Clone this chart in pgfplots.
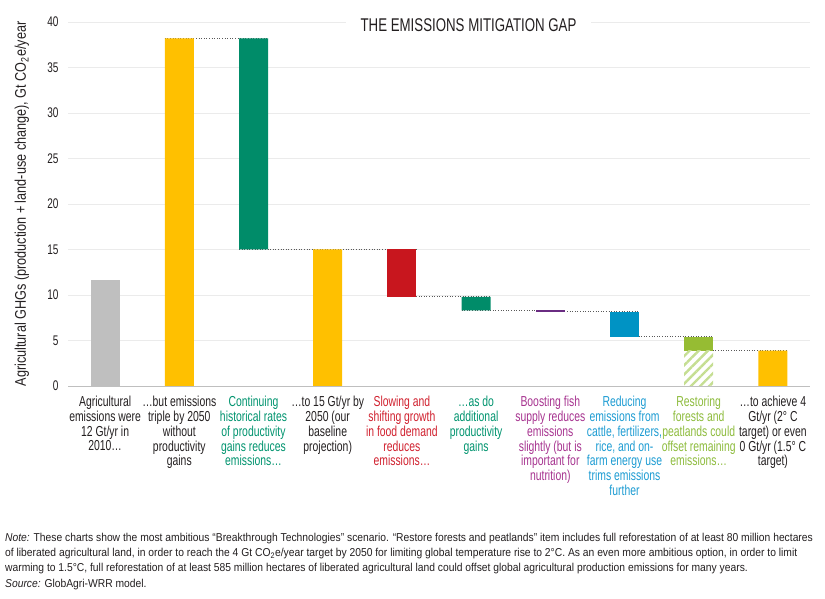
\documentclass[border=0pt]{standalone}
\usepackage{fontspec}
\setmainfont{Liberation Sans}[FakeStretch=0.72]
\newfontfamily\notefont{Liberation Sans}[FakeStretch=0.9]
\newfontfamily\ylabfont{Liberation Sans}[FakeStretch=0.82]
\usepackage{pgfplots}
\pgfplotsset{compat=1.18}
\usepackage{pgfplotstable}
\usetikzlibrary{patterns.meta}

\definecolor{cgray}{HTML}{BFBFBF}
\definecolor{cyellow}{HTML}{FFC000}
\definecolor{cgreen}{HTML}{008C69}
\definecolor{cred}{HTML}{C8161E}
\definecolor{cpurple}{HTML}{6A2C82}
\definecolor{cblue}{HTML}{0093C4}
\definecolor{clime}{HTML}{96BC33}
\definecolor{chatch}{HTML}{C5DE92}
\definecolor{tdark}{HTML}{231F20}
\definecolor{tgreen}{HTML}{00936E}
\definecolor{tred}{HTML}{D0202E}
\definecolor{tpurple}{HTML}{A6338F}
\definecolor{tblue}{HTML}{1C9BD2}
\definecolor{tlime}{HTML}{8DBB3C}
\definecolor{gridc}{HTML}{EBEBEB}

% coloured, centred multi-line category label
\newcommand{\catlabel}[2]{{\color{#1}\begin{tabular}{@{}c@{}}#2\end{tabular}}}

% waterfall steps: invisible base + visible segments
\pgfplotstableread{
x base hatch gray yellow green red purple blue lime
0 0    0   11.7 0    0    0   0    0    0
1 0    0   0    38.2 0    0   0    0    0
2 15   0   0    0    23.2 0   0    0    0
3 0    0   0    15   0    0   0    0    0
4 9.8  0   0    0    0    5.2 0    0    0
5 8.3  0   0    0    1.5  0   0    0    0
6 8.15 0   0    0    0    0   0.15 0    0
7 5.4  0   0    0    0    0   0    2.75 0
8 0    3.9 0    0    0    0   0    0    1.5
9 0    0   0    3.9  0    0   0    0    0
}\steps

\begin{document}
\begin{tikzpicture}
\useasboundingbox (0,0) rectangle (825bp,599bp);
\begin{axis}[
  at={(68bp,213bp)}, anchor=south west,
  scale only axis, width=742bp, height=364bp,
  xmin=-0.5, xmax=9.5, ymin=0, ymax=40,
  ybar stacked, bar width=29bp,
  axis lines*=left,
  y axis line style={draw=none},
  x axis line style={draw=black!25, line width=0.8bp},
  major tick length=0pt,
  ytick={0,5,...,40},
  ymajorgrids, grid style={gridc, line width=0.9bp},
  /pgf/number format/assume math mode=true,
  yticklabel style={font=\fontsize{14}{14}\selectfont, text=tdark, xshift=-6bp},
  ylabel={Agricultural GHGs (production + land-use change), Gt CO\textsubscript{2}e/year},
  ylabel style={at={(axis description cs:-0.062,0.5)}, anchor=center,
    font=\ylabfont\fontsize{15.5}{15.5}\selectfont, text=tdark},
  xtick={0,...,9},
  xticklabel style={font=\fontsize{14.5}{14.5}\selectfont,
    anchor=north, yshift=-8bp, inner sep=2bp},
  xticklabels={
    {\catlabel{tdark}{Agricultural\\emissions were\\12 Gt/yr in\\2010\dots}},
    {\catlabel{tdark}{\dots{}but emissions\\triple by 2050\\without\\productivity\\gains}},
    {\catlabel{tgreen}{Continuing\\historical rates\\of productivity\\gains reduces\\emissions\dots}},
    {\catlabel{tdark}{\dots{}to 15 Gt/yr by\\2050 (our\\baseline\\projection)}},
    {\catlabel{tred}{Slowing and\\shifting growth\\in food demand\\reduces\\emissions\dots}},
    {\catlabel{tgreen}{\dots{}as do\\additional\\productivity\\gains}},
    {\catlabel{tpurple}{Boosting fish\\supply reduces\\emissions\\slightly (but is\\important for\\nutrition)}},
    {\catlabel{tblue}{Reducing\\emissions from\\cattle, fertilizers,\\rice, and on-\\farm energy use\\trims emissions\\further}},
    {\catlabel{tlime}{Restoring\\forests and\\peatlands could\\offset remaining\\emissions\dots}},
    {\catlabel{tdark}{\dots{}to achieve 4\\Gt/yr (2° C\\target) or even\\0 Gt/yr (1.5° C\\target)}}
  },
  clip=false,
]
\addplot[draw=none, fill=none] table[x=x, y=base] {\steps};
\addplot[draw=none, pattern={Lines[angle=45, distance=6.5bp, line width=2.4bp]},
  pattern color=chatch] table[x=x, y=hatch] {\steps};
\addplot[draw=none, fill=cgray] table[x=x, y=gray] {\steps};
\addplot[draw=none, fill=cyellow] table[x=x, y=yellow] {\steps};
\addplot[draw=none, fill=cgreen] table[x=x, y=green] {\steps};
\addplot[draw=none, fill=cred] table[x=x, y=red] {\steps};
\addplot[draw=none, fill=cpurple] table[x=x, y=purple] {\steps};
\addplot[draw=none, fill=cblue] table[x=x, y=blue] {\steps};
\addplot[draw=none, fill=clime] table[x=x, y=lime] {\steps};
% connectors between consecutive steps
\pgfplotsset{connector/.style={sharp plot, stack plots=false, black!65,
  line width=0.9bp, dash pattern=on 1bp off 1.6bp, mark=none, forget plot}}
\addplot[connector] coordinates {(0.805,38.2) (2.195,38.2)};
\addplot[connector] coordinates {(1.805,15) (4.195,15)};
\addplot[connector] coordinates {(3.805,9.8) (5.195,9.8)};
\addplot[connector] coordinates {(4.805,8.3) (6.195,8.3)};
\addplot[connector] coordinates {(5.805,8.15) (7.195,8.15)};
\addplot[connector] coordinates {(6.805,5.4) (8.195,5.4)};
\addplot[connector] coordinates {(7.805,3.9) (9.195,3.9)};
\end{axis}
\node[fill=white, inner xsep=15bp, inner ysep=2bp, text=tdark,
  font=\fontsize{18.5}{18.5}\selectfont] at (468.5bp,574.3bp) {THE EMISSIONS MITIGATION GAP};
\node[anchor=north west, align=left, inner sep=0pt, text=tdark,
  font=\notefont\fontsize{11.5}{15.5}\selectfont] at (5bp,66.5bp) {%
\textit{Note:} These charts show the most ambitious “Breakthrough Technologies” scenario. “Restore forests and peatlands” item includes full reforestation of at least 80 million hectares\\
of liberated agricultural land, in order to reach the 4 Gt CO\textsubscript{2}e/year target by 2050 for limiting global temperature rise to 2°C. As an even more ambitious option, in order to limit\\
warming to 1.5°C, full reforestation of at least 585 million hectares of liberated agricultural land could offset global agricultural production emissions for many years.\\
\textit{Source:} GlobAgri-WRR model.};
\end{tikzpicture}
\end{document}
